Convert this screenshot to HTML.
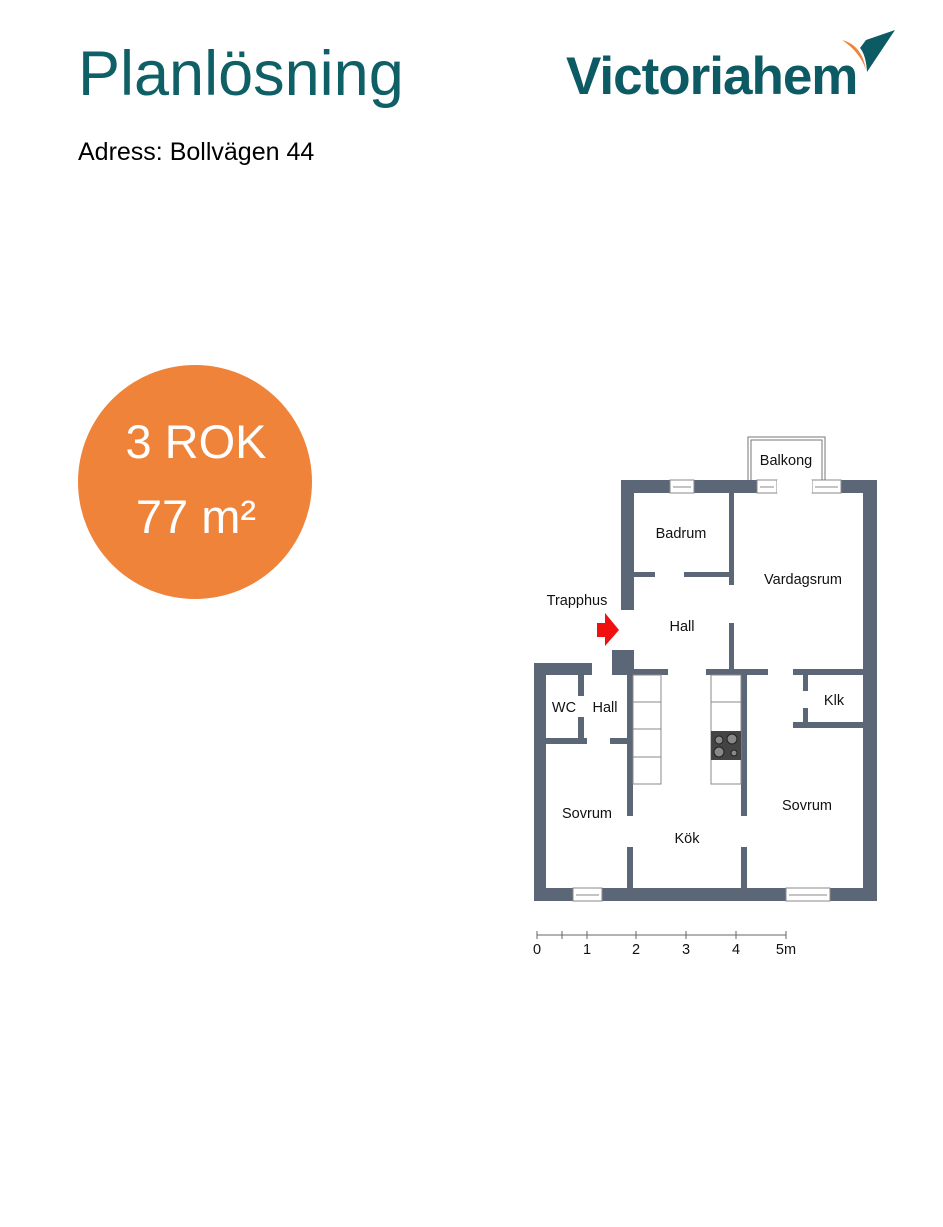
<!DOCTYPE html>
<html><head><meta charset="utf-8"><style>
body{margin:0;background:#fff;width:943px;height:1227px;position:relative;overflow:hidden;font-family:"Liberation Sans",sans-serif}
.t{position:absolute;white-space:nowrap}
</style></head><body>
<div class="t" style="left:78px;top:38px;font-size:63px;color:#0f5f66">Planlösning</div>
<div class="t" style="left:78px;top:138px;font-size:25px;color:#000">Adress: Bollvägen 44</div>
<div class="t" style="left:566px;top:46px;font-size:53px;font-weight:bold;color:#0c5a64;letter-spacing:-1px">Victoriahem</div>
<svg style="position:absolute;left:0;top:0" width="943" height="1227">
<path d="M842 40 Q862 45 866 70 Q860 52 842 40Z" fill="#ef833a"/>
<path d="M866 40 L895 30 L867 72 Q866 55 860 48Z" fill="#0c5a64"/>
<circle cx="195" cy="482" r="117" fill="#ef833a"/>
<text x="196" y="458" font-family="Liberation Sans,sans-serif" font-size="47" fill="#fff" text-anchor="middle">3 ROK</text>
<text x="196" y="533" font-family="Liberation Sans,sans-serif" font-size="47" fill="#fff" text-anchor="middle">77 m²</text>
<g fill="#5b6677">
<rect x="621" y="480" width="256" height="13"/>
<rect x="621" y="480" width="13" height="130"/>
<rect x="621" y="650" width="13" height="25"/>
<rect x="612" y="650" width="22" height="25"/>
<rect x="863" y="480" width="14" height="420"/>
<rect x="534" y="663" width="58" height="12"/>
<rect x="534" y="663" width="12" height="237"/>
<rect x="534" y="888" width="343" height="13"/>
<rect x="729" y="493" width="5" height="92"/>
<rect x="633" y="572" width="22" height="5"/>
<rect x="684" y="572" width="50" height="5"/>
<rect x="729" y="623" width="5" height="50"/>
<rect x="633" y="669" width="35" height="6"/>
<rect x="706" y="669" width="62" height="6"/>
<rect x="793" y="669" width="70" height="6"/>
<rect x="803" y="675" width="5" height="16"/>
<rect x="803" y="708" width="5" height="16"/>
<rect x="793" y="722" width="70" height="6"/>
<rect x="578" y="675" width="6" height="21"/>
<rect x="578" y="717" width="6" height="23"/>
<rect x="546" y="738" width="41" height="6"/>
<rect x="610" y="738" width="18" height="6"/>
<rect x="627" y="675" width="6" height="141"/>
<rect x="627" y="847" width="6" height="42"/>
<rect x="741" y="675" width="6" height="141"/>
<rect x="741" y="847" width="6" height="42"/>
</g>
<g fill="#fff" stroke="#888" stroke-width="1">
<rect x="670" y="480" width="24" height="13"/>
<rect x="757" y="480" width="20" height="13"/>
<rect x="812" y="480" width="29" height="13"/>
<rect x="573" y="888" width="29" height="13"/>
<rect x="786" y="888" width="44" height="13"/>
<rect x="633" y="675" width="28" height="109"/>
<rect x="711" y="675" width="30" height="109"/>
</g>
<rect x="777" y="480" width="35" height="13" fill="#fff"/>
<g stroke="#888" stroke-width="1">
<line x1="633" y1="702" x2="661" y2="702"/><line x1="633" y1="729" x2="661" y2="729"/><line x1="633" y1="757" x2="661" y2="757"/>
<line x1="711" y1="702" x2="741" y2="702"/>
<line x1="673" y1="487" x2="691" y2="487"/><line x1="760" y1="487" x2="774" y2="487"/><line x1="815" y1="487" x2="838" y2="487"/>
<line x1="576" y1="895" x2="599" y2="895"/><line x1="789" y1="895" x2="827" y2="895"/>
</g>
<rect x="711" y="731" width="30" height="29" fill="#444"/>
<g fill="#888" stroke="#222"><circle cx="719" cy="740" r="4"/><circle cx="732" cy="739" r="5"/><circle cx="719" cy="752" r="5"/><circle cx="734" cy="753" r="3"/></g>
<path d="M748 480 V437 H825 V480" fill="none" stroke="#777" stroke-width="1"/>
<path d="M751 480 V440 H822 V480" fill="none" stroke="#777" stroke-width="1"/>
<path d="M597 623 H605 V613 L619 630 L605 646 V637 H597Z" fill="#f01010"/>
<g stroke="#666" stroke-width="1"><line x1="537" y1="935" x2="786" y2="935"/>
<line x1="537" y1="931" x2="537" y2="939"/><line x1="587" y1="931" x2="587" y2="939"/><line x1="636" y1="931" x2="636" y2="939"/><line x1="686" y1="931" x2="686" y2="939"/><line x1="736" y1="931" x2="736" y2="939"/><line x1="786" y1="931" x2="786" y2="939"/>
<line x1="562" y1="931" x2="562" y2="939"/></g>
<g font-family="Liberation Sans,sans-serif" font-size="14.5" fill="#111" text-anchor="middle">
<text x="537" y="954">0</text><text x="587" y="954">1</text><text x="636" y="954">2</text><text x="686" y="954">3</text><text x="736" y="954">4</text><text x="786" y="954">5m</text>
<text x="786" y="465">Balkong</text><text x="681" y="538">Badrum</text><text x="803" y="584">Vardagsrum</text>
<text x="577" y="605">Trapphus</text><text x="682" y="631">Hall</text><text x="834" y="705">Klk</text>
<text x="564" y="712">WC</text><text x="605" y="712">Hall</text><text x="587" y="818">Sovrum</text>
<text x="807" y="810">Sovrum</text><text x="687" y="843">Kök</text>
</g>
</svg>
</body></html>
